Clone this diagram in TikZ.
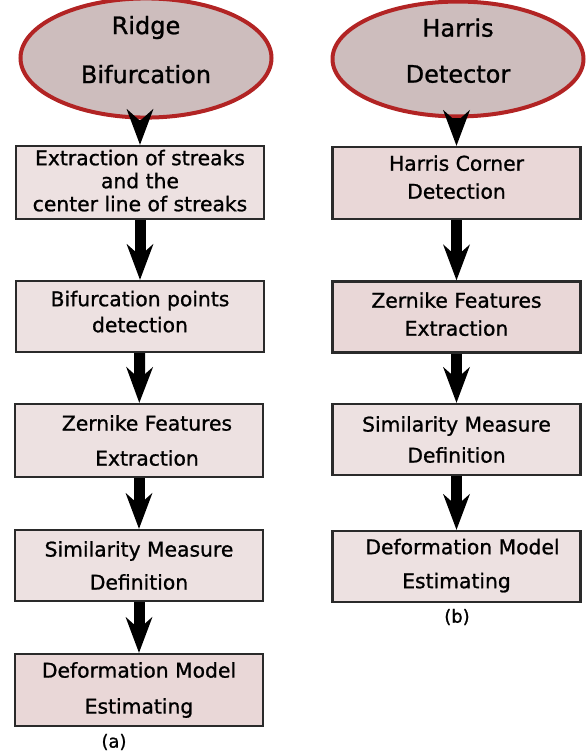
\documentclass[tikz,border=0pt]{standalone}
\usepackage{fontspec}
\setmainfont{DejaVu Sans}[FakeBold=1]
\usetikzlibrary{arrows.meta, positioning, shapes.geometric}
\usepackage{xcolor}
\definecolor{ovalfill}{HTML}{CDBDBD}
\definecolor{ovalline}{HTML}{B22424}
\definecolor{boxfill}{HTML}{EDE1E1}
\definecolor{boxfilldark}{HTML}{E9D7D7}
\definecolor{boxline}{HTML}{2A2A2A}

\begin{document}
\begin{tikzpicture}[x=1pt,y=-1pt]
    \tikzstyle{oval}=[ellipse, draw=ovalline, line width=4pt, fill=ovalfill, minimum width=251pt, minimum height=93pt, inner sep=0pt, align=center, font=\fontsize{24}{29}\selectfont]
    \tikzstyle{stage}=[rectangle, draw=boxline, line width=2.4pt, fill=boxfill, minimum width=248pt, inner sep=0pt, align=center, font=\fontsize{20.3}{24}\selectfont]
    \tikzstyle{flow}=[line width=11pt, -{Stealth[length=36pt, width=27pt, inset=12pt, line width=0pt]}]
    \tikzstyle{caption}=[font=\fontsize{18}{21}\selectfont]

    \useasboundingbox (0,0) rectangle (586,755);

    % left chain (a)
    \node[oval] (ridge) at (146,58) {Ridge\\[20pt]Bifurcation\\[-12pt]{}};
    \node[stage, minimum height=73pt] (streaks) at (140,182.5) {Extraction of streaks\\[-1pt]and the\hspace{24pt}\\[-1pt]center line of streaks\\[-20pt]{}};
    \node[stage, minimum height=71pt] (bifpoints) at (140,316.5) {Bifurcation points\\[2pt]detection\\[-14pt]{}};
    \node[stage, minimum height=73pt] (zernikeA) at (139,440.5) {\hspace{16pt}Zernike Features\\[11pt]\hspace{16pt}Extraction};
    \node[stage, minimum height=71pt] (similarA) at (139,565.5) {Similarity Measure\hspace{14pt}\\[9pt]Definition\hspace{18pt}};
    \node[stage, minimum height=72pt, fill=boxfilldark] (deformA) at (139,690) {Deformation Model\\[12pt]Estimating\hspace{18pt}};
    \node[caption] (capA) at (114,742) {(a)};

    % right chain (b)
    \node[oval] (harris) at (458,59) {Harris\\[17pt]Detector\\[-12pt]{}};
    \node[stage, minimum height=72pt, fill=boxfilldark] (corner) at (456.5,183) {Harris Corner\\[4pt]Detection\\[-12pt]{}};
    \node[stage, minimum height=71pt, fill=boxfilldark] (zernikeB) at (456.5,317) {Zernike Features\\[4pt]Extraction\\[-18pt]{}};
    \node[stage, minimum height=71pt] (similarB) at (456.5,439.5) {Similarity Measure\\[7pt]Definition};
    \node[stage, minimum height=71pt] (deformB) at (456.5,566.5) {\hspace{12pt}Deformation Model\\[10pt]Estimating\\[-18pt]{}};
    \node[caption] (capB) at (457,617) {(b)};

    % arrows
    \draw[flow] (ridge.south -| streaks.north) -- (streaks.north);
    \draw[flow] (streaks) -- (bifpoints);
    \draw[flow] (bifpoints) -- (zernikeA);
    \draw[flow] (zernikeA) -- (similarA);
    \draw[flow] (similarA) -- (deformA);

    \draw[flow] (harris.south -| corner.north) -- (corner.north);
    \draw[flow] (corner) -- (zernikeB);
    \draw[flow] (zernikeB) -- (similarB);
    \draw[flow] (similarB) -- (deformB);
\end{tikzpicture}
\end{document}
